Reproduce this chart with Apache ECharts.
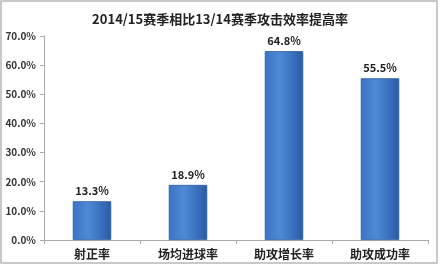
<!DOCTYPE html>
<html><head><meta charset="utf-8">
<script src="https://cdn.jsdelivr.net/npm/echarts@6/dist/echarts.min.js"></script>
<style>html,body{margin:0;padding:0;background:#fff}#c{width:440px;height:269px}</style>
</head><body><div id="c"></div>
<script>
const title = '2014/15赛季相比13/14赛季攻击效率提高率';
const categories = ['射正率', '场均进球率', '助攻增长率', '助攻成功率'];
const values = [13.3, 18.9, 64.8, 55.5];
const yTicks = [0, 10, 20, 30, 40, 50, 60, 70];

const chart = echarts.init(document.getElementById('c'));
const font = '"Noto Sans CJK SC", "Noto Sans", sans-serif';
chart.setOption({
  animation: false,
  backgroundColor: '#fff',
  title: {
    text: title, left: 'center', top: 8,
    textStyle: { fontFamily: font, fontSize: 13, fontWeight: 'bold', color: '#222' }
  },
  graphic: [{
    type: 'rect', shape: { x: 1, y: 1, width: 436, height: 262 },
    style: { fill: 'none', stroke: '#b8b8b8', lineWidth: 1.5 }, silent: true
  }],
  grid: { left: 44, right: 12, top: 36, bottom: 29, containLabel: false },
  xAxis: {
    type: 'category', data: categories,
    axisLine: { lineStyle: { color: '#aaa' } },
    axisTick: { show: true, length: 4, lineStyle: { color: '#aaa' } },
    axisLabel: { fontFamily: font, fontSize: 12, fontWeight: 'bold', color: '#222', margin: 8 }
  },
  yAxis: {
    type: 'value', min: 0, max: 70, interval: 10,
    axisLine: { show: true, lineStyle: { color: '#aaa' } },
    axisTick: { show: true, length: 4, lineStyle: { color: '#aaa' } },
    splitLine: { show: false },
    axisLabel: {
      fontFamily: font, fontSize: 10, fontWeight: 'bold', color: '#333', margin: 8,
      formatter: v => yTicks.includes(v) ? v.toFixed(1) + '%' : ''
    }
  },
  series: [{
    type: 'bar', data: values, barWidth: '40%',
    itemStyle: {
      color: new echarts.graphic.LinearGradient(0, 0, 1, 0, [
        { offset: 0, color: '#3a74c4' },
        { offset: 0.4, color: '#4f8ad6' },
        { offset: 1, color: '#2a5aa6' }
      ]),
      borderColor: '#2b5a9e', borderWidth: 0.8
    },
    label: {
      show: true, position: 'top', distance: 5,
      fontFamily: font, fontSize: 11, fontWeight: 'bold', color: '#222',
      formatter: p => p.value.toFixed(1) + '%'
    }
  }]
});
</script></body></html>
